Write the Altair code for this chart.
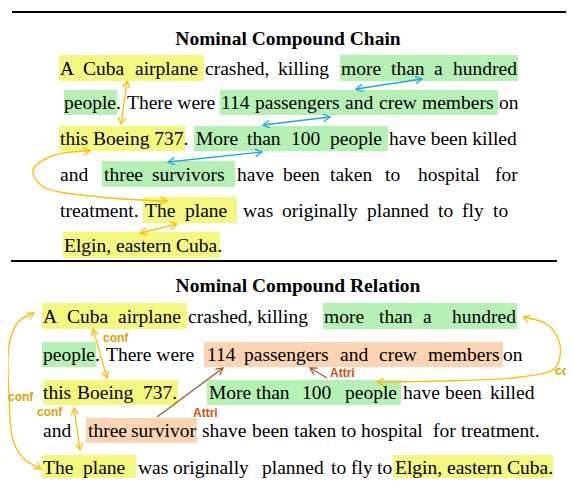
import altair as alt
import pandas as pd
import numpy as np

# ---------------- text data ----------------
TITLES = ["Nominal Compound Chain", "Nominal Compound Relation"]
TITLE_X = [288, 298]
TITLE_Y = [45, 292]

S1_BASELINES = [75, 109, 145, 181, 217, 252]
S1_WORDS = ["A", "Cuba", "airplane", "crashed,", "killing", "more", "than", "a", "hundred",
            "people.", "There were", "114", "passengers", "and", "crew", "members", "on",
            "this Boeing 737.", "More", "than", "100", "people", "have been killed",
            "and", "three", "survivors", "have", "been", "taken", "to", "hospital", "for",
            "treatment.", "The", "plane", "was", "originally", "planned", "to", "fly", "to",
            "Elgin, eastern Cuba."]
S1_X = [60, 83, 135, 205, 278, 341, 391, 434, 453,
        64, 127, 221, 255, 345, 379, 422, 499,
        60, 196, 247, 291, 330, 389,
        60, 104, 152, 237, 283, 330, 385, 418, 495,
        60, 145, 185, 243, 282, 367, 438, 462, 493,
        64]
S1_LINE = [0] * 9 + [1] * 8 + [2] * 6 + [3] * 9 + [4] * 9 + [5]

S2_BASELINES = [323, 361, 399, 437, 474]
S2_WORDS = ["A", "Cuba", "airplane", "crashed,", "killing", "more", "than", "a", "hundred",
            "people.", "There were", "114", "passengers", "and", "crew", "members", "on",
            "this", "Boeing", "737.", "More", "than", "100", "people", "have", "been", "killed",
            "and", "three", "survivor", "shave", "been", "taken", "to", "hospital", "for", "treatment.",
            "The", "plane", "was", "originally", "planned", "to", "fly", "to", "Elgin, eastern Cuba."]
S2_X = [43, 67, 118, 188, 257, 324, 379, 423, 452,
        43, 106, 207, 244, 340, 379, 428, 503,
        43, 77, 143, 209, 256, 302, 345, 403, 445, 490,
        43, 88, 131, 202, 252, 294, 341, 361, 433, 461,
        43, 83, 138, 173, 262, 331, 351, 377, 395]
S2_LINE = [0] * 9 + [1] * 8 + [2] * 10 + [3] * 10 + [4] * 9

# ---------------- highlight boxes ----------------
YELLOW, GREEN, PEACH = "#F4F87E", "#B5F0B5", "#FBD4B4"
HL_X1 = [59, 340, 64, 220, 59, 194, 102, 143, 63,
         42, 323, 42, 204, 43, 207, 86, 42, 393]
HL_X2 = [204, 518, 117, 498, 185, 388, 235, 237, 220,
         187, 517, 96, 503, 178, 401, 197, 136, 553]
HL_Y1 = [55, 55, 90, 90, 126, 126, 161, 197, 232,
         303, 303, 342, 342, 380, 380, 418, 455, 455]
HL_Y2 = [81, 81, 115, 115, 151, 151, 187, 223, 258,
         329, 329, 367, 367, 405, 405, 443, 480, 480]
HL_COLOR = [YELLOW, GREEN, GREEN, GREEN, YELLOW, GREEN, GREEN, YELLOW, YELLOW,
            YELLOW, GREEN, GREEN, PEACH, YELLOW, GREEN, PEACH, YELLOW, YELLOW]

# ---------------- separator rules ----------------
SEP_X1 = [12, 11]
SEP_X2 = [574, 557]
SEP_Y = [12, 261]

# ---------------- straight arrows ----------------
ORANGE, BLUE, BROWN = "#FFBE0B", "#1EA5E6", "#A5582A"
AR_X1 = [127, 356, 263, 168, 140, 93, 74, 327, 157]
AR_Y1 = [81, 89, 125, 162, 233, 329, 408, 378, 417]
AR_X2 = [121, 422, 330, 262, 177, 107, 80, 310, 223]
AR_Y2 = [124, 79, 117, 152, 224, 378, 450, 368, 368]
AR_COLOR = [ORANGE, BLUE, BLUE, BLUE, ORANGE, ORANGE, ORANGE, BROWN, BROWN]
AR_DOUBLE = [True, True, True, True, True, True, True, False, False]

# ---------------- curved arrows (control points) ----------------
CURVES = {
    "c1": ([90, 55, 33, 42, 100, 167], [151, 155, 170, 186, 197, 201]),
    "c2": ([34, 18, 9, 9, 13, 23, 41], [313, 322, 345, 395, 440, 458, 469]),
    "c3": ([523, 548, 560, 555, 520, 440, 377], [317, 325, 345, 368, 377, 381, 382]),
}

# ---------------- small labels ----------------
LBL_TEXT = ["conf", "conf", "conf", "con", "Attri", "Attri"]
LBL_X = [8, 103, 37, 555, 330, 193]
LBL_Y = [397, 338, 412, 371, 373, 413]
LBL_COLOR = ["#D9A200", "#D9A200", "#D9A200", "#D9A200", "#D2500E", "#D2500E"]

SERIF = '"Liberation Serif", "Times New Roman", Times, serif'
SANS = '"Liberation Sans", Arial, sans-serif'

# ---------------- build tables ----------------
words = pd.DataFrame({
    "t": S1_WORDS + S2_WORDS,
    "x": S1_X + S2_X,
    "y": [S1_BASELINES[i] for i in S1_LINE] + [S2_BASELINES[i] for i in S2_LINE],
})
titles = pd.DataFrame({"t": TITLES, "x": TITLE_X, "y": TITLE_Y})
boxes = pd.DataFrame({"x": HL_X1, "x2": HL_X2, "y": HL_Y1, "y2": HL_Y2, "c": HL_COLOR})
seps = pd.DataFrame({"x": SEP_X1, "x2": SEP_X2, "y": SEP_Y})
arrows = pd.DataFrame({"x": AR_X1, "y": AR_Y1, "x2": AR_X2, "y2": AR_Y2, "c": AR_COLOR})
labels = pd.DataFrame({"t": LBL_TEXT, "x": LBL_X, "y": LBL_Y, "c": LBL_COLOR})

curve_rows = []
for cid, (xs, ys) in CURVES.items():
    for k, (cx, cy) in enumerate(zip(xs, ys)):
        curve_rows.append({"id": cid, "o": k, "x": cx, "y": cy, "c": ORANGE})
curves = pd.DataFrame(curve_rows)


def ang(fx, fy, tx, ty):
    return float(np.degrees(np.arctan2(ty - fy, tx - fx)) % 360)


heads = []
for i in range(len(AR_X1)):
    heads.append({"x": AR_X2[i], "y": AR_Y2[i], "a": ang(AR_X1[i], AR_Y1[i], AR_X2[i], AR_Y2[i]), "c": AR_COLOR[i]})
    if AR_DOUBLE[i]:
        heads.append({"x": AR_X1[i], "y": AR_Y1[i], "a": ang(AR_X2[i], AR_Y2[i], AR_X1[i], AR_Y1[i]), "c": AR_COLOR[i]})
for cid, (xs, ys) in CURVES.items():
    heads.append({"x": xs[-1], "y": ys[-1], "a": ang(xs[-2], ys[-2], xs[-1], ys[-1]), "c": ORANGE})
    heads.append({"x": xs[0], "y": ys[0], "a": ang(xs[1], ys[1], xs[0], ys[0]), "c": ORANGE})
heads = pd.DataFrame(heads)

W, H = 558, 470
X = lambda f="x": alt.X(f"{f}:Q", scale=alt.Scale(domain=[8, 8 + W], nice=False, zero=False), axis=None)
Y = lambda f="y": alt.Y(f"{f}:Q", scale=alt.Scale(domain=[8, 8 + H], nice=False, zero=False, reverse=True), axis=None)

box_layer = alt.Chart(boxes).mark_rect().encode(
    x=X(), x2="x2:Q", y=Y(), y2="y2:Q", color=alt.Color("c:N", scale=None))
sep_layer = alt.Chart(seps).mark_rule(strokeWidth=2, color="#000000").encode(
    x=X(), x2="x2:Q", y=Y())
word_layer = alt.Chart(words).mark_text(
    align="left", baseline="alphabetic", font=SERIF, fontSize=19.5, color="#000000"
).encode(x=X(), y=Y(), text="t:N")
title_layer = alt.Chart(titles).mark_text(
    align="center", baseline="alphabetic", font=SERIF, fontSize=19.5,
    fontWeight="bold", color="#000000"
).encode(x=X(), y=Y(), text="t:N")
arrow_layer = alt.Chart(arrows).mark_rule(strokeWidth=1.3).encode(
    x=X(), y=Y(), x2="x2:Q", y2="y2:Q", color=alt.Color("c:N", scale=None))
curve_layer = alt.Chart(curves).mark_line(interpolate="catmull-rom", strokeWidth=1.4).encode(
    x=X(), y=Y(), detail="id:N", order="o:Q", color=alt.Color("c:N", scale=None))
head_layer = alt.Chart(heads).mark_point(
    shape="M-1,-0.55L0,0L-1,0.55", filled=False, size=180, strokeWidth=1.3, opacity=1
).encode(x=X(), y=Y(), angle=alt.Angle("a:Q", scale=None), color=alt.Color("c:N", scale=None))
label_layer = alt.Chart(labels).mark_text(
    align="left", baseline="middle", font=SANS, fontSize=12, fontWeight="bold"
).encode(x=X(), y=Y(), text="t:N", color=alt.Color("c:N", scale=None))

chart = alt.layer(
    box_layer, sep_layer, arrow_layer, curve_layer, head_layer, word_layer, title_layer, label_layer
).properties(
    width=W, height=H, autosize=alt.AutoSizeParams(type="none"), padding=0, background="white"
).configure_view(stroke=None)

chart.save("out.html", embed_options={"renderer": "svg", "actions": False})
